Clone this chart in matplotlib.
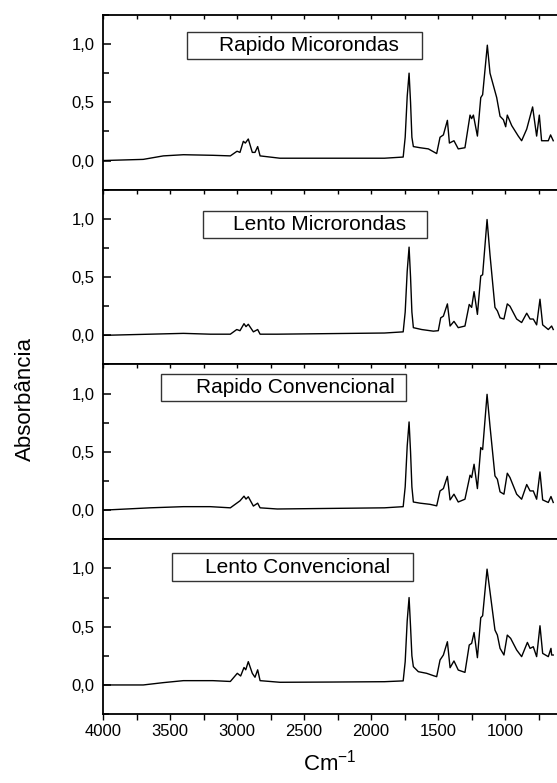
import matplotlib
matplotlib.use("Agg")
import matplotlib.pyplot as plt
from matplotlib.patches import Rectangle
from matplotlib.ticker import MultipleLocator, FuncFormatter

plt.rcParams['font.family'] = ['Liberation Sans', 'DejaVu Sans']
plt.rcParams['mathtext.fontset'] = 'custom'
plt.rcParams['mathtext.rm'] = 'Liberation Sans'

# espectros FTIR (numero de onda, absorbancia)
wn1 = [4000, 3700, 3550, 3400, 3180, 3050, 3000, 2978, 2953, 2938, 2916, 2886, 2866, 2846, 2828,
       2680, 2300, 1900, 1760, 1745, 1730, 1716, 1705, 1695, 1684, 1634, 1572, 1510, 1485, 1460,
       1430, 1415, 1381, 1349, 1299, 1261, 1249, 1236, 1206, 1181, 1167, 1132, 1112, 1062, 1037,
       1012, 995, 983, 950, 901, 876, 838, 794, 764, 744, 727, 677, 660, 640]
ab1 = [0.0, 0.01, 0.04, 0.05, 0.045, 0.04, 0.08, 0.07, 0.165, 0.15, 0.185, 0.07, 0.07, 0.12, 0.04,
       0.02, 0.02, 0.02, 0.03, 0.2, 0.55, 0.75, 0.5, 0.2, 0.12, 0.11, 0.10, 0.06, 0.20, 0.22,
       0.345, 0.15, 0.17, 0.10, 0.11, 0.39, 0.36, 0.39, 0.21, 0.54, 0.565, 0.99, 0.75, 0.54, 0.38,
       0.35, 0.29, 0.39, 0.30, 0.21, 0.17, 0.27, 0.46, 0.21, 0.39, 0.17, 0.17, 0.22, 0.17]

wn2 = [4000, 3650, 3400, 3200, 3050, 3002, 2978, 2948, 2933, 2916, 2878, 2846, 2828, 2700, 2300,
       1900, 1760, 1745, 1730, 1716, 1705, 1695, 1684, 1622, 1535, 1498, 1480, 1460, 1430, 1410,
       1381, 1349, 1299, 1267, 1249, 1231, 1206, 1181, 1167, 1134, 1112, 1075, 1057, 1037, 1008,
       983, 963, 913, 876, 838, 813, 789, 764, 739, 719, 677, 652, 640]
ab2 = [0.0, 0.01, 0.017, 0.01, 0.01, 0.05, 0.04, 0.10, 0.075, 0.095, 0.03, 0.05, 0.01, 0.01, 0.015,
       0.02, 0.03, 0.2, 0.55, 0.757, 0.5, 0.2, 0.066, 0.05, 0.036, 0.04, 0.15, 0.165, 0.27, 0.08,
       0.12, 0.066, 0.08, 0.265, 0.24, 0.375, 0.18, 0.51, 0.52, 0.994, 0.69, 0.24, 0.21, 0.15, 0.14,
       0.27, 0.25, 0.14, 0.11, 0.19, 0.14, 0.14, 0.09, 0.31, 0.09, 0.05, 0.08, 0.05]

wn3 = [4000, 3650, 3400, 3200, 3050, 3002, 2978, 2948, 2933, 2916, 2878, 2846, 2828, 2700, 2300,
       1900, 1760, 1745, 1730, 1716, 1705, 1695, 1684, 1634, 1560, 1510, 1485, 1460, 1430, 1410,
       1381, 1349, 1299, 1261, 1249, 1231, 1206, 1181, 1167, 1134, 1112, 1075, 1057, 1037, 1008,
       983, 963, 913, 876, 838, 813, 789, 764, 739, 719, 677, 657, 640]
ab3 = [0.0, 0.02, 0.03, 0.03, 0.02, 0.06, 0.08, 0.12, 0.095, 0.115, 0.035, 0.06, 0.02, 0.01, 0.015,
       0.02, 0.03, 0.2, 0.55, 0.757, 0.5, 0.2, 0.07, 0.06, 0.05, 0.037, 0.165, 0.185, 0.29, 0.088,
       0.137, 0.07, 0.094, 0.30, 0.28, 0.394, 0.185, 0.537, 0.52, 0.994, 0.72, 0.294, 0.265, 0.157, 0.137,
       0.317, 0.28, 0.137, 0.094, 0.22, 0.165, 0.165, 0.094, 0.328, 0.088, 0.066, 0.117, 0.066]

wn4 = [4000, 3700, 3550, 3400, 3180, 3050, 2998, 2973, 2948, 2935, 2916, 2886, 2866, 2846, 2828,
       2680, 2300, 1900, 1760, 1745, 1730, 1716, 1705, 1695, 1684, 1647, 1585, 1535, 1510, 1485,
       1460, 1430, 1410, 1381, 1349, 1299, 1267, 1249, 1231, 1206, 1181, 1167, 1134, 1112, 1075,
       1057, 1037, 1008, 983, 958, 913, 876, 833, 813, 789, 764, 739, 719, 677, 657, 652, 640]
ab4 = [0.0, 0.0, 0.02, 0.037, 0.037, 0.03, 0.10, 0.077, 0.15, 0.13, 0.20, 0.10, 0.066, 0.13, 0.037,
       0.023, 0.025, 0.028, 0.035, 0.2, 0.55, 0.75, 0.5, 0.25, 0.157, 0.114, 0.10, 0.08, 0.071, 0.214,
       0.257, 0.371, 0.148, 0.206, 0.128, 0.108, 0.343, 0.357, 0.45, 0.234, 0.577, 0.594, 0.994, 0.80, 0.471,
       0.428, 0.314, 0.257, 0.428, 0.40, 0.30, 0.243, 0.365, 0.314, 0.328, 0.243, 0.508, 0.271, 0.243, 0.314, 0.257, 0.257]

titulos = ["Rapido Micorondas", "Lento Microrondas", "Rapido Convencional", "Lento Convencional"]
espectros = [(wn1, ab1), (wn2, ab2), (wn3, ab3), (wn4, ab4)]

# cajas de los rotulos en fraccion de ejes: x0, x1, y0, y1, x del texto
cajas = [(0.185, 0.703, 0.749, 0.903, 0.256),
         (0.220, 0.714, 0.726, 0.880, 0.286),
         (0.128, 0.667, 0.789, 0.943, 0.205),
         (0.152, 0.683, 0.760, 0.920, 0.225)]

fig, axs = plt.subplots(4, 1, sharex=True, figsize=(5.57, 7.83), dpi=100)
fig.subplots_adjust(left=0.185, right=1.0, top=0.981, bottom=0.088, hspace=0)

coma = FuncFormatter(lambda v, p: f"{v:.1f}".replace(".", ","))

for i, ax in enumerate(axs):
    wn, ab = espectros[i]
    ax.plot(wn, ab, color="black", lw=1.0)
    ax.set_ylim(-0.25, 1.25)
    ax.set_xlim(4000, 612)
    ax.yaxis.set_major_locator(MultipleLocator(0.5))
    ax.yaxis.set_minor_locator(MultipleLocator(0.25))
    ax.yaxis.set_major_formatter(coma)
    ax.xaxis.set_major_locator(MultipleLocator(500))
    ax.xaxis.set_minor_locator(MultipleLocator(250))
    ax.spines["right"].set_visible(False)
    for s in ["left", "top", "bottom"]:
        ax.spines[s].set_linewidth(1.3)
    ax.tick_params(axis="y", which="major", direction="in", length=6, width=1.1, labelsize=12, pad=6)
    ax.tick_params(axis="y", which="minor", direction="in", length=4, width=1.1)
    ax.tick_params(axis="x", which="both", direction="in", top=True, bottom=False,
                   length=3, width=1.0, labelbottom=False)

    x0, x1, y0, y1, xt = cajas[i]
    ax.add_patch(Rectangle((x0, y0), x1 - x0, y1 - y0, transform=ax.transAxes,
                           fill=False, edgecolor="#333333", lw=1.0))
    ax.text(xt, (y0 + y1) / 2, titulos[i], transform=ax.transAxes,
            ha="left", va="center", fontsize=15)

axs[-1].tick_params(axis="x", which="both", bottom=True, labelbottom=True, length=4,
                    labelsize=12)
axs[-1].tick_params(axis="x", which="both", direction="out", bottom=True, top=False)
axs[-1].xaxis.set_tick_params(which="both", direction="out", pad=3)
axs[-1].set_xlabel("Cm$^{-1}$", fontsize=16, labelpad=8)

fig.text(0.045, 0.49, "Absorbância", rotation=90, ha="center", va="center", fontsize=16)

fig.savefig("out.png", dpi=100)
